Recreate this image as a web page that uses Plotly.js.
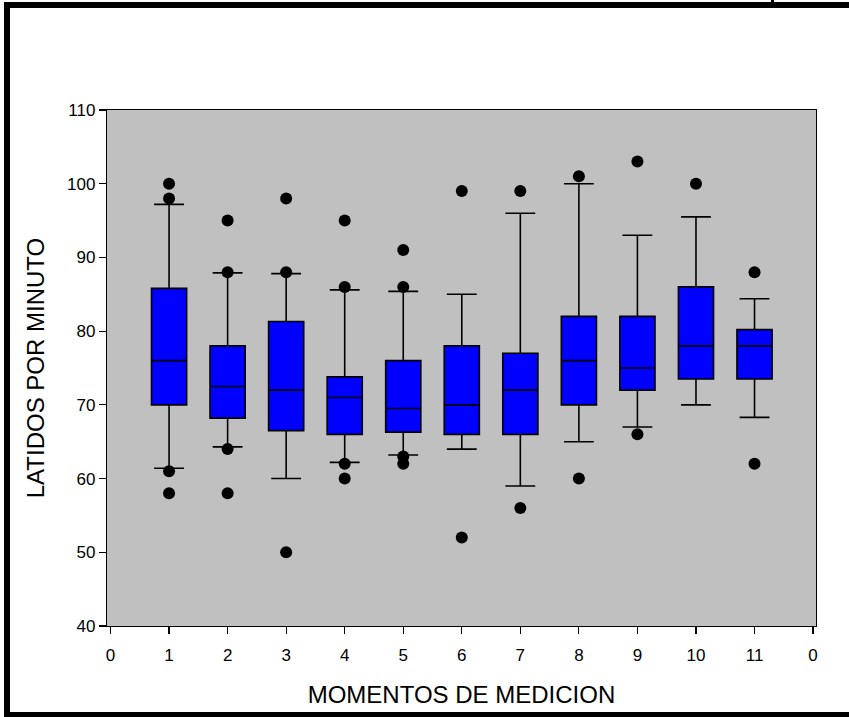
<!DOCTYPE html>
<html>
<head>
<meta charset="utf-8">
<script src="https://cdn.plot.ly/plotly-3.0.1.min.js"></script>
<style>
  html, body { margin: 0; padding: 0; background: #ffffff; }
  #chart { width: 849px; height: 717px; }
</style>
</head>
<body>
<div id="chart"></div>
<script>
// Measurement moments (categories)
const moments = [1, 2, 3, 4, 5, 6, 7, 8, 9, 10, 11];
// Box statistics (beats per minute)
const q1Values       = [70.0, 68.2, 66.5, 66.0, 66.3, 66.0, 66.0, 70.0, 72.0, 73.5, 73.5];
const medianValues   = [76.0, 72.5, 72.0, 71.0, 69.5, 70.0, 72.0, 76.0, 75.0, 78.0, 78.0];
const q3Values       = [85.8, 78.0, 81.3, 73.8, 76.0, 78.0, 77.0, 82.0, 82.0, 86.0, 80.2];
const lowerWhiskers  = [61.4, 64.3, 60.0, 62.2, 63.2, 64.0, 59.0, 65.0, 67.0, 70.0, 68.3];
const upperWhiskers  = [97.2, 87.9, 87.8, 85.6, 85.4, 85.0, 96.0, 100.0, 93.0, 95.5, 84.4];
// Outlying points per moment
const outliers = [
  [100, 98, 61, 58],
  [95, 88, 64, 58],
  [98, 88, 50],
  [95, 86, 62, 60],
  [91, 86, 63, 62],
  [99, 52],
  [99, 56],
  [101, 60],
  [103, 66],
  [100],
  [88, 62]
];
// Axis tick labels
const xTickVals = [0, 1, 2, 3, 4, 5, 6, 7, 8, 9, 10, 11, 12];
const xTickText = ["0", "1", "2", "3", "4", "5", "6", "7", "8", "9", "10", "11", "0"];

const outX = [], outY = [];
outliers.forEach((arr, i) => arr.forEach(v => { outX.push(moments[i]); outY.push(v); }));

const W = 849, H = 717;
const L = 107, R = 816, T = 110, B = 626;
const px = x => (x - L) / (R - L);
const py = y => (B - y) / (B - T);

const FONT = '"Liberation Sans", Arial, sans-serif';

const boxTrace = {
  type: 'box',
  x: moments,
  q1: q1Values,
  median: medianValues,
  q3: q3Values,
  lowerfence: lowerWhiskers,
  upperfence: upperWhiskers,
  boxpoints: false,
  width: 0.6,
  whiskerwidth: 0.85,
  fillcolor: '#0000FF',
  line: { color: '#000000', width: 1.6 },
  showlegend: false,
  hoverinfo: 'skip'
};

const outTrace = {
  type: 'scatter',
  mode: 'markers',
  x: outX,
  y: outY,
  marker: { color: '#000000', size: 12 },
  showlegend: false,
  hoverinfo: 'skip'
};

const frame = (x0, y0, x1, y1) => ({
  type: 'rect', xref: 'paper', yref: 'paper',
  x0: px(x0), x1: px(x1), y0: py(y1), y1: py(y0),
  fillcolor: '#000000', line: { width: 0 }, layer: 'above'
});

const layout = {
  width: W, height: H,
  margin: { l: L, r: W - R, t: T, b: H - B, pad: 0 },
  paper_bgcolor: '#ffffff',
  plot_bgcolor: '#C0C0C0',
  font: { family: FONT, color: '#000000', size: 17 },
  xaxis: {
    range: [-0.06, 12.05],
    tickvals: xTickVals,
    ticktext: xTickText,
    ticks: 'outside', ticklen: 7, tickwidth: 1.2, tickcolor: '#000000',
    showline: true, mirror: true, linecolor: '#000000', linewidth: 1.2,
    showgrid: false, zeroline: false,
    ticklabelstandoff: 6,
    tickfont: { family: FONT, size: 17 },
    title: { text: 'MOMENTOS DE MEDICION', font: { family: FONT, size: 24 }, standoff: 22 }
  },
  yaxis: {
    range: [40, 110],
    dtick: 10, tick0: 40,
    ticks: 'outside', ticklen: 7, tickwidth: 1.2, tickcolor: '#000000',
    showline: true, mirror: true, linecolor: '#000000', linewidth: 1.2,
    showgrid: false, zeroline: false,
    tickfont: { family: FONT, size: 17 },
    title: { text: 'LATIDOS POR MINUTO', font: { family: FONT, size: 24 }, standoff: 15 }
  },
  shapes: [
    frame(4, 2, 10, 717),
    frame(4, 2, 849, 8),
    frame(4, 712, 849, 717),
    frame(771, 0, 774, 2)
  ]
};

Plotly.newPlot('chart', [boxTrace, outTrace], layout, { displayModeBar: false, staticPlot: true });
</script>
</body>
</html>
